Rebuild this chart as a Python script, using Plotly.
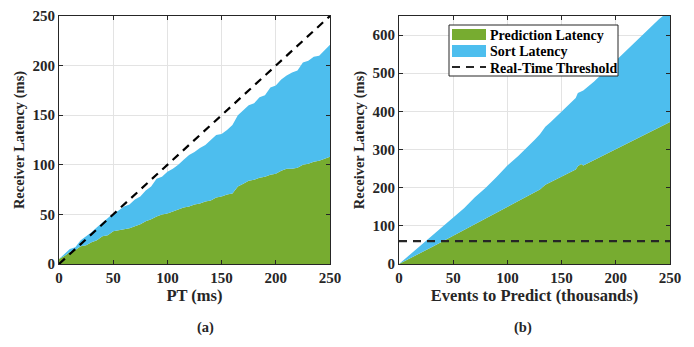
import plotly.graph_objects as go

# ---- Panel (a): latency vs PT ----
pt_ms = list(range(0, 251, 5))
pred_a = [5, 8, 12, 14, 18, 19, 22, 24, 28, 29, 33, 34, 35, 36, 38, 40, 43, 45, 48, 50,
          51, 53, 55, 57, 58, 60, 61, 63, 64, 67, 68, 70, 71, 78, 81, 84, 85, 87, 88, 90,
          91, 94, 96, 96, 97, 100, 101, 103, 104, 106, 108]
total_a = [5, 10, 15, 17, 24, 28, 32, 37, 42, 47, 51, 54, 58, 60, 65, 68, 74, 78, 86, 88,
           93, 96, 100, 105, 110, 113, 117, 120, 125, 130, 131, 135, 140, 150, 155, 160, 162, 168, 170, 178,
           180, 186, 190, 193, 195, 203, 205, 209, 210, 216, 221]
threshold_a_x = [0, 250]
threshold_a_y = [0, 250]

# ---- Panel (b): latency vs events ----
events_k = [0, 10, 20, 30, 40, 50, 60, 70, 80, 90, 100, 110, 120, 125, 130, 135, 140, 150,
            160, 163, 165, 168, 170, 180, 190, 200, 210, 220, 230, 240, 250]
pred_b = [0, 14, 29, 44, 59, 74, 89, 105, 120, 134, 150, 163, 178, 186, 195, 208, 215, 228,
          243, 248, 256, 262, 258, 272, 286, 301, 315, 330, 344, 358, 372]
total_b = [0, 24, 48, 72, 96, 120, 146, 175, 200, 228, 258, 283, 310, 325, 340, 360, 372, 400,
           428, 435, 448, 452, 455, 478, 505, 532, 560, 588, 615, 642, 665]
threshold_b = 60

legend_labels = ["Prediction Latency", "Sort Latency", "Real-Time Threshold"]

GREEN = "#77AC30"
BLUE = "#4DBEEE"
FONT = "Liberation Serif"
INK = "#262626"
W, H = 694, 347


def px(x):
    return x / W


def py(y):
    return 1 - y / H


fig = go.Figure()

# panel a
fig.add_trace(go.Scatter(x=pt_ms, y=pred_a, mode="lines", line=dict(width=0, color=GREEN),
                         fill="tozeroy", fillcolor=GREEN, showlegend=False, xaxis="x", yaxis="y"))
fig.add_trace(go.Scatter(x=pt_ms, y=total_a, mode="lines", line=dict(width=0, color=BLUE),
                         fill="tonexty", fillcolor=BLUE, showlegend=False, xaxis="x", yaxis="y"))
fig.add_trace(go.Scatter(x=threshold_a_x, y=threshold_a_y, mode="lines",
                         line=dict(color="black", width=2.2, dash="8px,6px"),
                         showlegend=False, xaxis="x", yaxis="y"))

# panel b
fig.add_trace(go.Scatter(x=events_k, y=pred_b, mode="lines", line=dict(width=0, color=GREEN),
                         fill="tozeroy", fillcolor=GREEN, name=legend_labels[0], showlegend=False,
                         xaxis="x2", yaxis="y2"))
fig.add_trace(go.Scatter(x=events_k, y=total_b, mode="lines", line=dict(width=0, color=BLUE),
                         fill="tonexty", fillcolor=BLUE, name=legend_labels[1], showlegend=False,
                         xaxis="x2", yaxis="y2"))
fig.add_trace(go.Scatter(x=[0, 250], y=[threshold_b, threshold_b], mode="lines",
                         line=dict(color=INK, width=2.2, dash="8px,6px"),
                         name=legend_labels[2], showlegend=False, xaxis="x2", yaxis="y2"))

axis_common = dict(
    showline=True, linecolor=INK, linewidth=1, mirror="ticks",
    ticks="inside", ticklen=4, tickcolor=INK,
    showgrid=True, gridcolor="#e3e3e3", gridwidth=1, zeroline=False,
    automargin=False,
    tickfont=dict(family=FONT, size=15, color=INK, weight="bold"),
)
xtitle_font = dict(family=FONT, size=16.5, color=INK, weight="bold")
ytitle_font = dict(family=FONT, size=14.5, color=INK, weight="bold")

# custom legend (box, swatches, labels) in paper coordinates
shapes = [
    dict(type="rect", xref="paper", yref="paper", x0=px(449), x1=px(618), y0=py(76), y1=py(25),
         line=dict(color=INK, width=1), fillcolor="white", layer="above"),
    dict(type="rect", xref="paper", yref="paper", x0=px(452), x1=px(486), y0=py(40), y1=py(29),
         line=dict(width=0), fillcolor=GREEN, layer="above"),
    dict(type="rect", xref="paper", yref="paper", x0=px(452), x1=px(486), y0=py(57), y1=py(45),
         line=dict(width=0), fillcolor=BLUE, layer="above"),
    dict(type="line", xref="paper", yref="paper", x0=px(452), x1=px(486), y0=py(67), y1=py(67),
         line=dict(color=INK, width=2.2, dash="8px,6px"), layer="above"),
]
legend_ys = [35, 52, 68]
annotations = [
    dict(text=t, x=px(488), y=py(yy), xref="paper", yref="paper", xanchor="left", yanchor="middle",
         showarrow=False, font=dict(family=FONT, size=14, color="black", weight="bold"))
    for t, yy in zip(legend_labels, legend_ys)
]
annotations += [
    dict(text="(a)", x=px(195), y=py(338), xref="paper", yref="paper",
         showarrow=False, font=dict(family=FONT, size=14.5, color=INK, weight="bold")),
    dict(text="(b)", x=px(534), y=py(338), xref="paper", yref="paper",
         showarrow=False, font=dict(family=FONT, size=14.5, color=INK, weight="bold")),
]

ydom = [py(264), py(16)]
fig.update_layout(
    width=W, height=H,
    margin=dict(l=0, r=0, t=0, b=0),
    plot_bgcolor="white", paper_bgcolor="white",
    font=dict(family=FONT, color=INK),
    showlegend=False,
    xaxis=dict(domain=[px(59), px(330)], range=[0, 250], tickvals=[0, 50, 100, 150, 200, 250],
               title=dict(text="PT (ms)", font=xtitle_font, standoff=1),
               anchor="y", **axis_common),
    yaxis=dict(domain=ydom, range=[0, 250], tickvals=[0, 50, 100, 150, 200, 250],
               title=dict(text="Receiver Latency (ms)", font=ytitle_font, standoff=4),
               anchor="x", **axis_common),
    xaxis2=dict(domain=[px(399), px(670)], range=[0, 250], tickvals=[0, 50, 100, 150, 200, 250],
                title=dict(text="Events to Predict (thousands)", font=xtitle_font, standoff=1),
                anchor="y2", **axis_common),
    yaxis2=dict(domain=ydom, range=[0, 650], tickvals=[0, 100, 200, 300, 400, 500, 600],
                title=dict(text="Receiver Latency (ms)", font=ytitle_font, standoff=4),
                anchor="x2", **axis_common),
    shapes=shapes,
    annotations=annotations,
)

fig.write_html("out.html")
